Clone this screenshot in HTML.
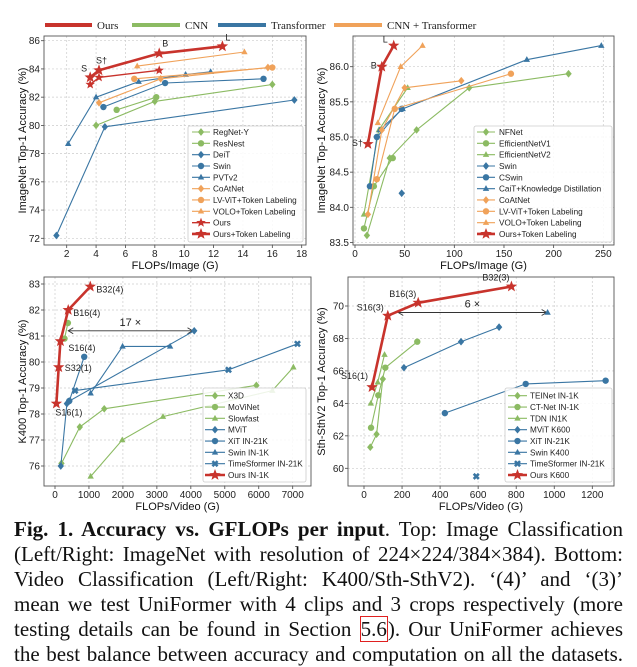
<!DOCTYPE html>
<html><head><meta charset="utf-8">
<style>
body{margin:0;background:#fff;width:637px;height:667px;overflow:hidden;position:relative;font-family:"Liberation Sans",sans-serif}
svg{position:absolute;left:0;top:0}
.cap{position:absolute;left:14px;width:609px;font-family:"Liberation Serif",serif;font-size:21px;line-height:25px;text-align:justify;text-align-last:justify;white-space:nowrap;color:#111}
.ref{border:1.5px solid #e02020;padding:0 0px}
</style></head><body>
<svg id="fig" width="637" height="520"></svg>
<div class="cap" style="top:517px"><b>Fig. 1. Accuracy vs. GFLOPs per input</b>. Top: Image Classification</div>
<div class="cap" style="top:542px">(Left/Right: ImageNet with resolution of 224×224/384×384). Bottom:</div>
<div class="cap" style="top:567px">Video Classification (Left/Right: K400/Sth-SthV2). ‘(4)’ and ‘(3)’</div>
<div class="cap" style="top:592px">mean we test UniFormer with 4 clips and 3 crops respectively (more</div>
<div class="cap" style="top:617px">testing details can be found in Section <span class="ref">5.6</span>). Our UniFormer achieves</div>
<div class="cap" style="top:642px">the best balance between accuracy and computation on all the datasets.</div>
<script>
// ---------- Data: Plot 1 (ImageNet 224) ----------
const p1RegnetX=[4.0,8.0,16.0], p1RegnetY=[80.0,81.7,82.9];
const p1ResnestX=[5.4,8.1], p1ResnestY=[81.1,82.0];
const p1DeitX=[1.3,4.6,17.5], p1DeitY=[72.2,79.9,81.8];
const p1SwinX=[4.5,8.7,15.4], p1SwinY=[81.3,83.0,83.3];
const p1PvtX=[2.1,4.0,6.9,10.1,11.8], p1PvtY=[78.7,82.0,83.1,83.6,83.8];
const p1CoatX=[4.2,8.4,15.7], p1CoatY=[81.6,83.3,84.1];
const p1LvvitX=[6.6,16.0], p1LvvitY=[83.3,84.1];
const p1VoloX=[6.8,14.1], p1VoloY=[84.2,85.2];
const p1OursX=[3.6,4.2,8.3], p1OursY=[82.9,83.4,83.9];
const p1OursTlX=[3.6,4.2,8.3,12.6], p1OursTlY=[83.4,83.9,85.1,85.6];
const p1OursTlLabels=["S","S†","B","L"];
const p1XTicks=[2,4,6,8,10,12,14,16,18], p1YTicks=[72,74,76,78,80,82,84,86];
// ---------- Data: Plot 2 (ImageNet 384) ----------
const p2NfnetX=[12,35,62,115,215], p2NfnetY=[83.6,84.7,85.1,85.7,85.9];
const p2Eff1X=[9,19,38], p2Eff1Y=[83.7,84.3,84.7];
const p2Eff2X=[9,24,53], p2Eff2Y=[83.9,85.1,85.7];
const p2SwinX=[47], p2SwinY=[84.2];
const p2CswinX=[15,22,47], p2CswinY=[84.3,85.0,85.4];
const p2CaitX=[25,48,173,248], p2CaitY=[85.1,85.4,86.1,86.3];
const p2CoatX=[13,27,50,107], p2CoatY=[83.9,85.1,85.7,85.8];
const p2LvvitX=[22,40,157], p2LvvitY=[84.4,85.4,85.9];
const p2VoloX=[23,46,68], p2VoloY=[85.2,86.0,86.3];
const p2OursX=[13,27,39], p2OursY=[84.9,86.0,86.3];
const p2OursLabels=["S†","B","L"];
const p2XTicks=[0,50,100,150,200,250], p2YTicks=[83.5,84.0,84.5,85.0,85.5,86.0];
// ---------- Data: Plot 3 (K400) ----------
const p3X3dX=[190,730,1450,5930], p3X3dY=[76.1,77.5,78.2,79.1];
const p3MovX=[280,380], p3MovY=[80.9,81.5];
const p3SlowX=[1050,1980,3180,6400,7020], p3SlowY=[75.6,77.0,77.9,78.9,79.8];
const p3MvitX=[170,350,420,4100], p3MvitY=[76.0,78.4,78.5,81.2];
const p3XitX=[420,860], p3XitY=[78.5,80.2];
const p3SwinX=[1050,1990,3390], p3SwinY=[78.8,80.6,80.6];
const p3TsX=[590,5110,7140], p3TsY=[78.9,79.7,80.7];
const p3OursX=[40,110,160,390,1040], p3OursY=[78.4,79.8,80.8,82.0,82.9];
const p3OursLabels=["S16(1)","S32(1)","S16(4)","B16(4)","B32(4)"];
const p3XTicks=[0,1000,2000,3000,4000,5000,6000,7000], p3YTicks=[76,77,78,79,80,81,82,83];
// ---------- Data: Plot 4 (SthSthV2) ----------
const p4TeiX=[33,66,99], p4TeiY=[61.3,62.1,65.5];
const p4CtX=[37,75,112,280], p4CtY=[62.5,64.5,66.2,67.8];
const p4TdnX=[36,72,108], p4TdnY=[64.0,65.3,67.0];
const p4MvitX=[210,510,710], p4MvitY=[66.2,67.8,68.7];
const p4XitX=[425,850,1270], p4XitY=[63.4,65.2,65.4];
const p4SwinX=[965], p4SwinY=[69.6];
const p4TsX=[590], p4TsY=[59.5];
const p4OursX=[42,125,285,775], p4OursY=[65.0,69.4,70.2,71.2];
const p4OursLabels=["S16(1)","S16(3)","B16(3)","B32(3)"];
const p4XTicks=[0,200,400,600,800,1000,1200], p4YTicks=[60,62,64,66,68,70];

const RED="#c8332c",GRN="#8cbb63",BLU="#3a76a3",ORG="#f0a25a";
const NS="http://www.w3.org/2000/svg";
const svg=document.getElementById('fig');
function el(tag,attrs,parent){const e=document.createElementNS(NS,tag);for(const k in attrs)e.setAttribute(k,attrs[k]);(parent||svg).appendChild(e);return e;}
function txt(s,attrs,parent){const e=el('text',attrs,parent);e.textContent=s;return e;}
function scale(d0,d1,p0,p1){return v=>p0+(v-d0)*(p1-p0)/(d1-d0);}

function marker(g,type,x,y,color,r){
  let m;
  if(type==='o'){m=el('circle',{cx:x,cy:y,r:r,fill:color},g);}
  else if(type==='d'){m=el('polygon',{points:`${x},${y-r*1.2} ${x+r},${y} ${x},${y+r*1.2} ${x-r},${y}`,fill:color},g);}
  else if(type==='^'){m=el('polygon',{points:`${x},${y-r*1.1} ${x+r},${y+r*0.7} ${x-r},${y+r*0.7}`,fill:color},g);}
  else if(type==='x'){const a=r*0.8;m=el('path',{d:`M${x-a},${y-a}L${x+a},${y+a}M${x+a},${y-a}L${x-a},${y+a}`,stroke:color,'stroke-width':2.6},g);}
  else if(type==='*'){let p=[];for(let i=0;i<10;i++){const rr=i%2?r*0.42:r;const an=-Math.PI/2+i*Math.PI/5;p.push((x+rr*Math.cos(an)).toFixed(1)+','+(y+rr*Math.sin(an)).toFixed(1));}m=el('polygon',{points:p.join(' '),fill:color},g);}
  
  
  return m;
}

function plot(cfg){
  const g=el('g',{},svg);
  
  
  const sx=scale(cfg.xd[0],cfg.xd[1],cfg.xp[0],cfg.xp[1]);
  const sy=scale(cfg.yd[0],cfg.yd[1],cfg.yp[0],cfg.yp[1]);
  const b=cfg.box;
  el('rect',{x:b[0],y:b[1],width:b[2]-b[0],height:b[3]-b[1],fill:'#fff'},g);
  cfg.xt.forEach(t=>{const X=sx(t);
    el('line',{x1:X,x2:X,y1:b[1],y2:b[3],stroke:'#ccc','stroke-width':0.7,'stroke-dasharray':'2,2'},g);
    el('line',{x1:X,x2:X,y1:b[3],y2:b[3]+3,stroke:'#444','stroke-width':0.8},g);
    const l=txt(String(t),{x:X,y:b[3]+12,'text-anchor':'middle','font-size':10,fill:'#222'},g);
    });
  cfg.yt.forEach(t=>{const Y=sy(t);
    el('line',{x1:b[0],x2:b[2],y1:Y,y2:Y,stroke:'#ccc','stroke-width':0.7,'stroke-dasharray':'2,2'},g);
    el('line',{x1:b[0]-3,x2:b[0],y1:Y,y2:Y,stroke:'#444','stroke-width':0.8},g);
    const l=txt(cfg.yfmt?t.toFixed(1):String(t),{x:b[0]-4,y:Y+3.5,'text-anchor':'end','font-size':10,fill:'#222'},g);
    });
  el('rect',{x:b[0],y:b[1],width:b[2]-b[0],height:b[3]-b[1],fill:'none',stroke:'#555','stroke-width':0.9},g);
  const xl=txt(cfg.xlabel,{x:(b[0]+b[2])/2,y:cfg.xly,'text-anchor':'middle','font-size':11,fill:'#111'},g);
  
  const yc=(b[1]+b[3])/2;
  const yl=txt(cfg.ylabel,{x:cfg.ylx,y:yc,'text-anchor':'middle','font-size':11,fill:'#111',transform:`rotate(-90 ${cfg.ylx} ${yc})`},g);
  
  if(cfg.arrow){const a=cfg.arrow;const x1=sx(a.x1),x2=sx(a.x2),Y=sy(a.y);
    const ar=el('g',{},g);
    el('line',{x1:x1,x2:x2,y1:Y,y2:Y,stroke:'#333','stroke-width':0.9},ar);
    el('path',{d:`M${x1+5},${Y-3}L${x1},${Y}L${x1+5},${Y+3}M${x2-5},${Y-3}L${x2},${Y}L${x2-5},${Y+3}`,stroke:'#333',fill:'none','stroke-width':0.9},ar);
    txt(a.label,{x:(x1+x2)/2,y:Y-5,'text-anchor':'middle','font-size':11,fill:'#222'},ar);}
  cfg.series.forEach(s=>{
    const sg=el('g',{},g);
    
    
    const pts=s.x.map((v,i)=>sx(v).toFixed(1)+','+sy(s.y[i]).toFixed(1)).join(' ');
    if(s.x.length>1)el('polyline',{points:pts,fill:'none',stroke:s.c,'stroke-width':s.w||1.1},sg);
    s.x.forEach((v,i)=>marker(sg,s.m,sx(v),sy(s.y[i]),s.c,s.r||(s.m==='*'?5:3.2)));
    if(s.labels)s.labels.forEach((lb,i)=>{const o=s.lo[i];
      const t=txt(lb,{x:sx(s.x[i])+o[0],y:sy(s.y[i])+o[1],'font-size':s.lfs||9,'text-anchor':o[2]||'start',fill:'#222'},sg);
      });
  });
  const L=cfg.legend;
  const lg=el('g',{},g);
  el('rect',{x:L.box[0],y:L.box[1],width:L.box[2]-L.box[0],height:L.box[3]-L.box[1],fill:'#fff','fill-opacity':0.85,stroke:'#ccc','stroke-width':0.8,rx:2},lg);
  L.items.forEach((s,i)=>{const Y=L.y0+i*L.dy;
    const e=el('g',{},lg);
    el('line',{x1:L.lx[0],x2:L.lx[1],y1:Y,y2:Y,stroke:s.c,'stroke-width':s.w||1.1},e);
    marker(e,s.m,(L.lx[0]+L.lx[1])/2,Y,s.c,s.m==='*'?(s.r||5):3.2);
    txt(s.name,{x:L.tx,y:Y+3,'font-size':8.2,fill:'#222'},e);});
}

const s1=[
 {key:'regnet',name:'RegNet-Y',x:p1RegnetX,y:p1RegnetY,c:GRN,m:'d'},
 {key:'resnest',name:'ResNest',x:p1ResnestX,y:p1ResnestY,c:GRN,m:'o'},
 {key:'deit',name:'DeiT',x:p1DeitX,y:p1DeitY,c:BLU,m:'d'},
 {key:'swin',name:'Swin',x:p1SwinX,y:p1SwinY,c:BLU,m:'o'},
 {key:'pvtv2',name:'PVTv2',x:p1PvtX,y:p1PvtY,c:BLU,m:'^'},
 {key:'coatnet',name:'CoAtNet',x:p1CoatX,y:p1CoatY,c:ORG,m:'d'},
 {key:'lvvit',name:'LV-ViT+Token Labeling',x:p1LvvitX,y:p1LvvitY,c:ORG,m:'o'},
 {key:'volo',name:'VOLO+Token Labeling',x:p1VoloX,y:p1VoloY,c:ORG,m:'^'},
 {key:'ours',name:'Ours',x:p1OursX,y:p1OursY,c:RED,m:'*',w:1.4},
 {key:'ours-tl',name:'Ours+Token Labeling',x:p1OursTlX,y:p1OursTlY,c:RED,m:'*',w:2.6,r:6,labels:p1OursTlLabels,lo:[[-3,-6,'end'],[-3,-7],[3,-7],[3,-6]]}];
plot({name:'imagenet-224-chart',box:[44,36,306,245],xd:[2,18],xp:[66.7,301.7],yd:[72,86],yp:[238.3,40.7],xt:p1XTicks,yt:p1YTicks,
 xlabel:'FLOPs/Image (G)',xly:269,ylabel:'ImageNet Top-1 Accuracy (%)',ylx:26,series:s1,
 legend:{box:[188,126,303,242],y0:132,dy:11.33,lx:[192,210],tx:213,items:s1}});

const s2=[
 {key:'nfnet',name:'NFNet',x:p2NfnetX,y:p2NfnetY,c:GRN,m:'d'},
 {key:'effv1',name:'EfficientNetV1',x:p2Eff1X,y:p2Eff1Y,c:GRN,m:'o'},
 {key:'effv2',name:'EfficientNetV2',x:p2Eff2X,y:p2Eff2Y,c:GRN,m:'^'},
 {key:'swin',name:'Swin',x:p2SwinX,y:p2SwinY,c:BLU,m:'d'},
 {key:'cswin',name:'CSwin',x:p2CswinX,y:p2CswinY,c:BLU,m:'o'},
 {key:'cait',name:'CaiT+Knowledge Distillation',x:p2CaitX,y:p2CaitY,c:BLU,m:'^'},
 {key:'coatnet',name:'CoAtNet',x:p2CoatX,y:p2CoatY,c:ORG,m:'d'},
 {key:'lvvit',name:'LV-ViT+Token Labeling',x:p2LvvitX,y:p2LvvitY,c:ORG,m:'o'},
 {key:'volo',name:'VOLO+Token Labeling',x:p2VoloX,y:p2VoloY,c:ORG,m:'^'},
 {key:'ours-tl',name:'Ours+Token Labeling',x:p2OursX,y:p2OursY,c:RED,m:'*',w:2.6,r:6,labels:p2OursLabels,lo:[[-5,2,'end'],[-5,2,'end'],[-6,-3,'end']]}];
plot({name:'imagenet-384-chart',box:[353,36,614,245],xd:[0,250],xp:[355,603.3],yd:[84,86],yp:[207.3,66.7],xt:p2XTicks,yt:p2YTicks,yfmt:true,
 xlabel:'FLOPs/Image (G)',xly:269,ylabel:'ImageNet Top-1 Accuracy (%)',ylx:325,series:s2,
 legend:{box:[474,126,612,242],y0:132,dy:11.33,lx:[477,495],tx:499,items:s2}});

const s3=[
 {key:'x3d',name:'X3D',x:p3X3dX,y:p3X3dY,c:GRN,m:'d'},
 {key:'movinet',name:'MoViNet',x:p3MovX,y:p3MovY,c:GRN,m:'o'},
 {key:'slowfast',name:'Slowfast',x:p3SlowX,y:p3SlowY,c:GRN,m:'^'},
 {key:'mvit',name:'MViT',x:p3MvitX,y:p3MvitY,c:BLU,m:'d'},
 {key:'xit',name:'XiT IN-21K',x:p3XitX,y:p3XitY,c:BLU,m:'o'},
 {key:'swin',name:'Swin IN-1K',x:p3SwinX,y:p3SwinY,c:BLU,m:'^'},
 {key:'timesformer',name:'TimeSformer IN-21K',x:p3TsX,y:p3TsY,c:BLU,m:'x'},
 {key:'ours',name:'Ours IN-1K',x:p3OursX,y:p3OursY,c:RED,m:'*',w:2.6,r:6,labels:p3OursLabels,lo:[[-1,12],[6,4],[8,10],[5,6],[6,6]]}];
plot({name:'k400-chart',box:[44,277,311,486],xd:[0,7000],xp:[55,292.7],yd:[76,83],yp:[466,284],xt:p3XTicks,yt:p3YTicks,
 xlabel:'FLOPs/Video (G)',xly:510,ylabel:'K400 Top-1 Accuracy (%)',ylx:26,series:s3,
 arrow:{x1:390,x2:4050,y:81.2,label:'17 ×'},
 legend:{box:[203,388,306,482],y0:395.7,dy:11.33,lx:[205,225],tx:228,items:s3}});

const s4=[
 {key:'teinet',name:'TEINet IN-1K',x:p4TeiX,y:p4TeiY,c:GRN,m:'d'},
 {key:'ctnet',name:'CT-Net IN-1K',x:p4CtX,y:p4CtY,c:GRN,m:'o'},
 {key:'tdn',name:'TDN IN1K',x:p4TdnX,y:p4TdnY,c:GRN,m:'^'},
 {key:'mvit',name:'MViT K600',x:p4MvitX,y:p4MvitY,c:BLU,m:'d'},
 {key:'xit',name:'XiT IN-21K',x:p4XitX,y:p4XitY,c:BLU,m:'o'},
 {key:'swin',name:'Swin K400',x:p4SwinX,y:p4SwinY,c:BLU,m:'^'},
 {key:'timesformer',name:'TimeSformer IN-21K',x:p4TsX,y:p4TsY,c:BLU,m:'x'},
 {key:'ours',name:'Ours K600',x:p4OursX,y:p4OursY,c:RED,m:'*',w:2.6,r:6,labels:p4OursLabels,lo:[[-4,-8,'end'],[-4,-5,'end'],[-2,-6,'end'],[-2,-6,'end']]}];
plot({name:'sthv2-chart',box:[348,277,614,486],xd:[0,1200],xp:[364,592.3],yd:[60,70],yp:[468.3,306],xt:p4XTicks,yt:p4YTicks,
 xlabel:'FLOPs/Video (G)',xly:510,ylabel:'Sth-SthV2 Top-1 Accuracy (%)',ylx:325,series:s4,
 arrow:{x1:180,x2:960,y:69.6,label:'6 ×'},
 legend:{box:[505,388,612,482],y0:395.7,dy:11.33,lx:[508,527],tx:530,items:s4}});

// top legend
const tl=el('g',{},svg);
[[RED,45,92,'Ours'],[GRN,132,180,'CNN'],[BLU,218,266,'Transformer'],[ORG,334,382,'CNN + Transformer']].forEach(d=>{
  const e=el('g',{},tl);
  el('line',{x1:d[1],x2:d[2],y1:25,y2:25,stroke:d[0],'stroke-width':4},e);
  txt(d[3],{x:d[2]+5,y:29,'font-size':11,'font-family':'Liberation Serif, serif',fill:'#222'},e);});
</script>
</body></html>
